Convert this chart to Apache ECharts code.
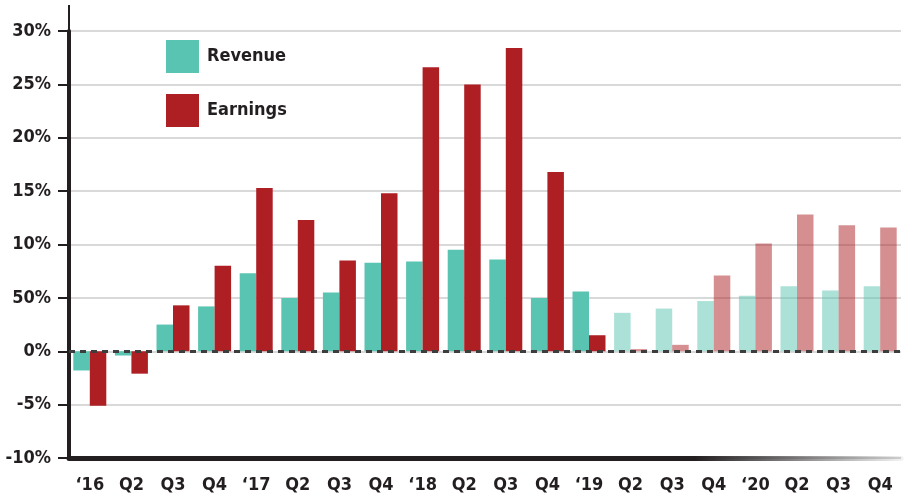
<!DOCTYPE html>
<html>
<head>
<meta charset="utf-8">
<script src="https://cdn.jsdelivr.net/npm/echarts@6/dist/echarts.min.js"></script>
<style>
html, body { margin: 0; padding: 0; background: #fff; }
#chart { width: 918px; height: 497px; }
</style>
</head>
<body>
<div id="chart"></div>
<script>
// 季度标签
const quarters = ['‘16', 'Q2', 'Q3', 'Q4', '‘17', 'Q2', 'Q3', 'Q4', '‘18', 'Q2', 'Q3', 'Q4', '‘19', 'Q2', 'Q3', 'Q4', '‘20', 'Q2', 'Q3', 'Q4'];
// 同比增长 (%)
const revenue = [-1.8, -0.4, 2.5, 4.2, 7.3, 5.0, 5.5, 8.3, 8.4, 9.5, 8.6, 5.0, 5.6, 3.6, 4.0, 4.7, 5.2, 6.1, 5.7, 6.1];
const earnings = [-5.1, -2.1, 4.3, 8.0, 15.3, 12.3, 8.5, 14.8, 26.6, 25.0, 28.4, 16.8, 1.5, 0.2, 0.6, 7.1, 10.1, 12.8, 11.8, 11.6];
// y轴刻度标签 (原图就是 "50%")
const yTicks = [-10, -5, 0, 5, 10, 15, 20, 25, 30];
const yTickLabels = ['-10%', '-5%', '0%', '50%', '10%', '15%', '20%', '25%', '30%'];
const firstEstimate = 13; // 从 '19 Q2 开始是预测值

const font = "'Liberation Sans Narrow', 'DejaVu Sans Condensed', sans-serif";
const ink = '#231f20';

// 预测值半透明
function withEstimates (arr) {
  return arr.map((v, i) => i >= firstEstimate ? { value: v, itemStyle: { opacity: 0.5 } } : v)
}

const chart = echarts.init(document.getElementById('chart'));
chart.setOption({
  animation: false,
  color: ['#5ac4b2', '#ae1f24'],
  grid: { left: 69, right: 17, top: 31, bottom: 39 },
  legend: {
    orient: 'vertical',
    left: 166,
    top: 40,
    padding: 0,
    itemWidth: 33,
    itemHeight: 33,
    itemGap: 21,
    icon: 'rect',
    textStyle: { fontFamily: font, fontWeight: 'bold', fontSize: 18, color: ink, padding: [0, 0, 0, 3] },
    data: ['Revenue', 'Earnings']
  },
  xAxis: {
    type: 'category',
    data: quarters,
    axisLine: {
      onZero: false,
      lineStyle: {
        width: 5,
        color: new echarts.graphic.LinearGradient(0, 0, 1, 0, [
          { offset: 0, color: ink },
          { offset: 0.75, color: ink },
          { offset: 1, color: 'rgba(35,31,32,0.05)' }
        ])
      }
    },
    axisTick: { alignWithLabel: true, length: 8, lineStyle: { width: 2, color: ink } },
    axisLabel: { margin: 18, fontFamily: font, fontWeight: 'bold', fontSize: 18, color: ink }
  },
  yAxis: {
    type: 'value',
    min: -10,
    max: 30,
    interval: 5,
    axisLine: {
      show: true,
      // 轴线顶端向上延伸一点
      symbol: ['none', 'rect'],
      symbolSize: [2, 52],
      lineStyle: { width: 4, color: ink }
    },
    axisTick: { show: true, length: 11, lineStyle: { width: 2, color: ink } },
    axisLabel: {
      margin: 18,
      fontFamily: font,
      fontWeight: 'bold',
      fontSize: 18,
      color: ink,
      formatter: v => yTickLabels[yTicks.indexOf(v)]
    },
    splitLine: { lineStyle: { color: '#d9d9d9', width: 2 } }
  },
  series: [
    {
      name: 'Revenue',
      type: 'bar',
      barWidth: 16.5,
      barGap: '0%',
      data: withEstimates(revenue)
    },
    {
      name: 'Earnings',
      type: 'bar',
      barWidth: 16.5,
      data: withEstimates(earnings),
      markLine: {
        silent: true,
        symbol: 'none',
        label: { show: false },
        lineStyle: { type: [6, 5], width: 3, color: '#3d3d3d' },
        data: [{ yAxis: 0 }]
      }
    }
  ]
});
</script>
</body>
</html>
